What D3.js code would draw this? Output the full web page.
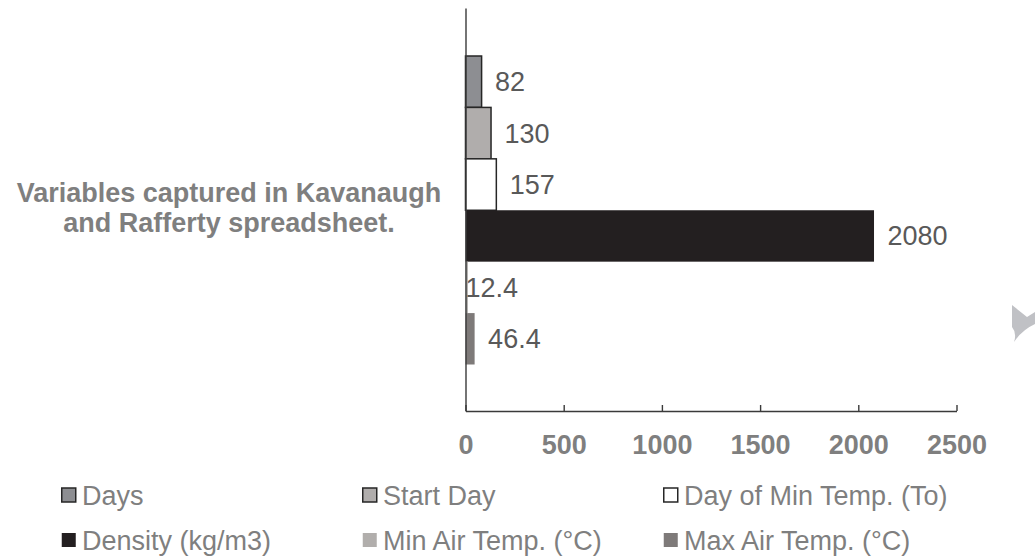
<!DOCTYPE html>
<html>
<head>
<meta charset="utf-8">
<script src="https://cdn.jsdelivr.net/npm/d3@7"></script>
<style>
  html, body { margin: 0; padding: 0; background: #ffffff; }
  svg { display: block; font-family: "Liberation Sans", Arial, sans-serif; }
</style>
</head>
<body>
<svg id="chart" width="1035" height="560"></svg>
<script>
// ---- data ----
const category = ["Variables captured in Kavanaugh", "and Rafferty spreadsheet."];
const seriesNames = ["Days", "Start Day", "Day of Min Temp. (To)", "Density (kg/m3)", "Min Air Temp. (°C)", "Max Air Temp. (°C)"];
const seriesValues = [82, 130, 157, 2080, 12.4, 46.4];
const valueLabels = ["82", "130", "157", "2080", "12.4", "46.4"];
const tickValues = [0, 500, 1000, 1500, 2000, 2500];

// ---- styles ----
const fills = ["#8d8e92", "#b0adac", "#ffffff", "#231f20", "#b1aeac", "#7e7a79"];
const strokes = ["#262626", "#262626", "#262626", "none", "none", "none"];

const svg = d3.select("#chart");
const plot = { left: 465.5, right: 956.5, top: 8, bottom: 411 };

const x = d3.scaleLinear().domain([0, 2500]).range([plot.left, plot.right]);
const yCat = d3.scaleBand().domain([category.join(" ")]).range([plot.top, plot.bottom]);
const y = d3.scaleBand().domain(seriesNames).range([56, 364.5]).padding(0);

const data = seriesNames.map((n, i) => ({ name: n, value: seriesValues[i], label: valueLabels[i], i }));

// bars
svg.append("g").selectAll("rect").data(data).join("rect")
  .attr("x", x(0))
  .attr("y", d => y(d.name))
  .attr("width", d => x(d.value) - x(0))
  .attr("height", y.bandwidth())
  .attr("fill", d => fills[d.i])
  .attr("stroke", d => strokes[d.i])
  .attr("stroke-width", 1.5);

// data labels
svg.append("g").selectAll("text").data(data).join("text")
  .attr("x", d => d.value < 20 ? x(0) : x(d.value) + 13.5)
  .attr("y", d => y(d.name) + y.bandwidth() / 2)
  .attr("dy", "0.35em")
  .attr("font-size", 27)
  .attr("fill", "#595959")
  .text(d => d.label);

// x axis
const xAxis = d3.axisBottom(x).tickValues(tickValues).tickFormat(d3.format("d"))
  .tickSizeInner(-6).tickSizeOuter(0).tickPadding(24);
const gx = svg.append("g").attr("transform", `translate(0,${plot.bottom})`).call(xAxis);
gx.select(".domain").attr("stroke", "#3a3a3a").attr("stroke-width", 1.4);
gx.selectAll(".tick line").attr("stroke", "#3a3a3a").attr("stroke-width", 1.4);
gx.selectAll(".tick text")
  .attr("font-family", "Liberation Sans, Arial, sans-serif")
  .attr("font-size", 27).attr("font-weight", "bold").attr("fill", "#7f7f7f");

// y axis (single category)
const yAxis = d3.axisLeft(yCat).tickSize(0).tickSizeOuter(0);
const gy = svg.append("g").attr("transform", `translate(${plot.left},0)`).call(yAxis);
gy.select(".domain").attr("stroke", "#3a3a3a").attr("stroke-width", 1.4);
gy.selectAll(".tick text").remove();

const catText = svg.append("text")
  .attr("text-anchor", "middle")
  .attr("font-size", 27).attr("font-weight", "bold").attr("fill", "#7f7f7f");
category.forEach((line, i) => {
  catText.append("tspan")
    .attr("x", 229)
    .attr("y", yCat(yCat.domain()[0]) + yCat.bandwidth() / 2 - 7.5 + i * 30)
    .text(line);
});

// legend
const legCols = [61, 362, 663];
const legRows = [495.5, 540.5];
const leg = svg.append("g").selectAll("g").data(data).join("g")
  .attr("transform", d => `translate(${legCols[d.i % 3]},${legRows[Math.floor(d.i / 3)]})`);
leg.append("rect")
  .attr("x", 0.75).attr("y", -7.5).attr("width", 14).attr("height", 14)
  .attr("fill", d => fills[d.i])
  .attr("stroke", d => strokes[d.i])
  .attr("stroke-width", 1.5);
leg.append("text")
  .attr("x", 21).attr("dy", "0.35em")
  .attr("font-size", 27).attr("fill", "#7f7f7f")
  .text(d => d.name);

// decorative fragment at right edge
svg.append("path")
  .attr("d", "M1012,305 L1027,317 L1035,312 L1035,324 Q1022,330 1014,342 Q1017,333 1012,327 Z")
  .attr("fill", "#c0c1c5");
</script>
</body>
</html>
